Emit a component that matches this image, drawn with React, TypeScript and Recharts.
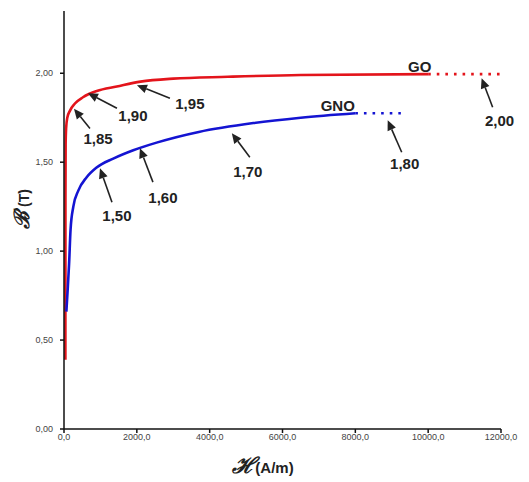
import React from 'react';
import {
  LineChart, Line, XAxis, YAxis, ReferenceLine, ReferenceDot,
} from 'recharts';

// GO (grain oriented) curve, H in A/m, B in T
const goH = [38, 40, 45, 58, 90, 165, 300, 520, 900, 1450, 2100, 3000, 4500, 6500, 10000];
const goB = [0.39, 1.3, 1.6, 1.69, 1.75, 1.79, 1.83, 1.865, 1.9, 1.925, 1.953, 1.97, 1.98, 1.99, 1.995];
const goExtH = [10000, 12000];
const goExtB = [1.995, 1.995];

// GNO (non oriented) curve
const gnoH = [65, 100, 140, 180, 256, 393, 622, 896, 1353, 1902, 2543, 3700, 5200, 6500, 8000];
const gnoB = [0.66, 0.78, 0.93, 1.12, 1.25, 1.34, 1.415, 1.47, 1.52, 1.567, 1.61, 1.67, 1.72, 1.75, 1.775];
const gnoExtH = [8000, 9250];
const gnoExtB = [1.775, 1.775];

const xTicks = [0, 2000, 4000, 6000, 8000, 10000, 12000];
const yTicks = [0, 0.5, 1, 1.5, 2];

// arrow annotations: text, tip (on curve) and tail, label position (data units)
const arrowText = ['1,85', '1,90', '1,95', '1,50', '1,60', '1,70', '1,80', '2,00'];
const tipH = [274, 658, 2003, 988, 2085, 4609, 8889, 11468];
const tipB = [1.8, 1.888, 1.933, 1.466, 1.579, 1.663, 1.736, 1.972];
const tailH = [713, 1454, 2908, 1317, 2442, 5103, 9273, 11770];
const tailB = [1.69, 1.803, 1.86, 1.275, 1.388, 1.528, 1.556, 1.809];
const labelH = [933, 1893, 3457, 1454, 2716, 5048, 9355, 11962];
const labelB = [1.635, 1.764, 1.83, 1.2, 1.303, 1.449, 1.494, 1.736];

const seriesNames = ['GO', 'GNO'];
const seriesLabelH = [9767, 7517];
const seriesLabelB = [2.04, 1.82];

const RED = '#e3141b';
const BLUE = '#1414d2';
const FONT = 'Liberation Sans, Arial, sans-serif';

const toPoints = (hs: number[], bs: number[]) => hs.map((h, i) => ({ h, b: bs[i] }));
const comma = (v: number, d: number) => v.toFixed(d).replace('.', ',');

const ArrowShape = (props: any) => {
  const { x1, y1, x2, y2 } = props;
  // x1,y1 = tip ; x2,y2 = tail
  const dx = x1 - x2;
  const dy = y1 - y2;
  const len = Math.sqrt(dx * dx + dy * dy) || 1;
  const ux = dx / len;
  const uy = dy / len;
  const headLen = 10;
  const headW = 4.5;
  const bx = x1 - ux * headLen;
  const by = y1 - uy * headLen;
  const pts = `${x1},${y1} ${bx - uy * headW},${by + ux * headW} ${bx + uy * headW},${by - ux * headW}`;
  return (
    <g>
      <line x1={x2} y1={y2} x2={bx} y2={by} stroke="#222" strokeWidth={1.6} />
      <polygon points={pts} fill="#222" />
    </g>
  );
};

const textShape = (text: string) => (props: any) => (
  <text
    x={props.cx}
    y={props.cy}
    textAnchor="middle"
    dominantBaseline="central"
    fontFamily={FONT}
    fontWeight="bold"
    fontSize={15}
    fill="#222"
  >
    {text}
  </text>
);

export default function App() {
  const goData = toPoints(goH, goB);
  const gnoData = toPoints(gnoH, gnoB);
  const goExt = toPoints(goExtH, goExtB);
  const gnoExt = toPoints(gnoExtH, gnoExtB);

  return (
    <div style={{ position: 'absolute', left: 0, top: 0, width: 529, height: 482, background: '#fff' }}>
      <LineChart width={529} height={482} margin={{ top: 11, right: 28, left: 0, bottom: 0 }}>
        <XAxis
          type="number"
          dataKey="h"
          domain={[0, 12000]}
          ticks={xTicks}
          tickFormatter={(v: number) => comma(v, 1)}
          height={53}
          tickSize={4}
          tickMargin={1}
          stroke="#111"
          strokeWidth={1.5}
          tick={{ fontSize: 9, fill: '#444', fontFamily: FONT }}
          allowDataOverflow
        />
        <YAxis
          type="number"
          dataKey="b"
          domain={[0, 2.35]}
          ticks={yTicks}
          tickFormatter={(v: number) => comma(v, 2)}
          width={64}
          tickSize={4}
          tickMargin={7}
          stroke="#111"
          strokeWidth={1.5}
          tick={{ fontSize: 9, fill: '#444', fontFamily: FONT }}
          allowDataOverflow
        />
        <Line data={goData} dataKey="b" type="monotone" stroke={RED} strokeWidth={2.6} dot={false} isAnimationActive={false} />
        <Line data={gnoData} dataKey="b" type="monotone" stroke={BLUE} strokeWidth={2.6} dot={false} isAnimationActive={false} />
        <Line data={goExt} dataKey="b" type="linear" stroke={RED} strokeWidth={2.6} strokeDasharray="2.6 6" dot={false} isAnimationActive={false} />
        <Line data={gnoExt} dataKey="b" type="linear" stroke={BLUE} strokeWidth={2.6} strokeDasharray="2.6 6" dot={false} isAnimationActive={false} />
        {arrowText.map((t, i) => (
          <ReferenceLine
            key={`arr-${t}`}
            segment={[{ x: tipH[i], y: tipB[i] }, { x: tailH[i], y: tailB[i] }]}
            shape={ArrowShape}
          />
        ))}
        {arrowText.map((t, i) => (
          <ReferenceDot
            key={`lbl-${t}`}
            x={labelH[i]}
            y={labelB[i]}
            shape={textShape(t)}
          />
        ))}
        {seriesNames.map((n, i) => (
          <ReferenceDot
            key={`s-${n}`}
            x={seriesLabelH[i]}
            y={seriesLabelB[i]}
            shape={textShape(n)}
          />
        ))}
      </LineChart>
      {/* axis titles */}
      <svg width={529} height={482} style={{ position: 'absolute', left: 0, top: 0, pointerEvents: 'none' }}>
        <text x={263} y={473} textAnchor="middle" fontFamily={FONT} fill="#222">
          <tspan fontSize={22} fontFamily="DejaVu Serif, serif" fontStyle="italic" fontWeight="bold">ℋ</tspan>
          <tspan fontSize={15} fontWeight="bold">(A/m)</tspan>
        </text>
        <text x={29} y={209} textAnchor="middle" transform="rotate(-90, 29, 209)" fontFamily={FONT} fill="#222">
          <tspan fontSize={21} fontFamily="DejaVu Serif, serif" fontStyle="italic" fontWeight="bold">ℬ</tspan>
          <tspan fontSize={14} fontWeight="bold"> (T)</tspan>
        </text>
      </svg>
    </div>
  );
}
